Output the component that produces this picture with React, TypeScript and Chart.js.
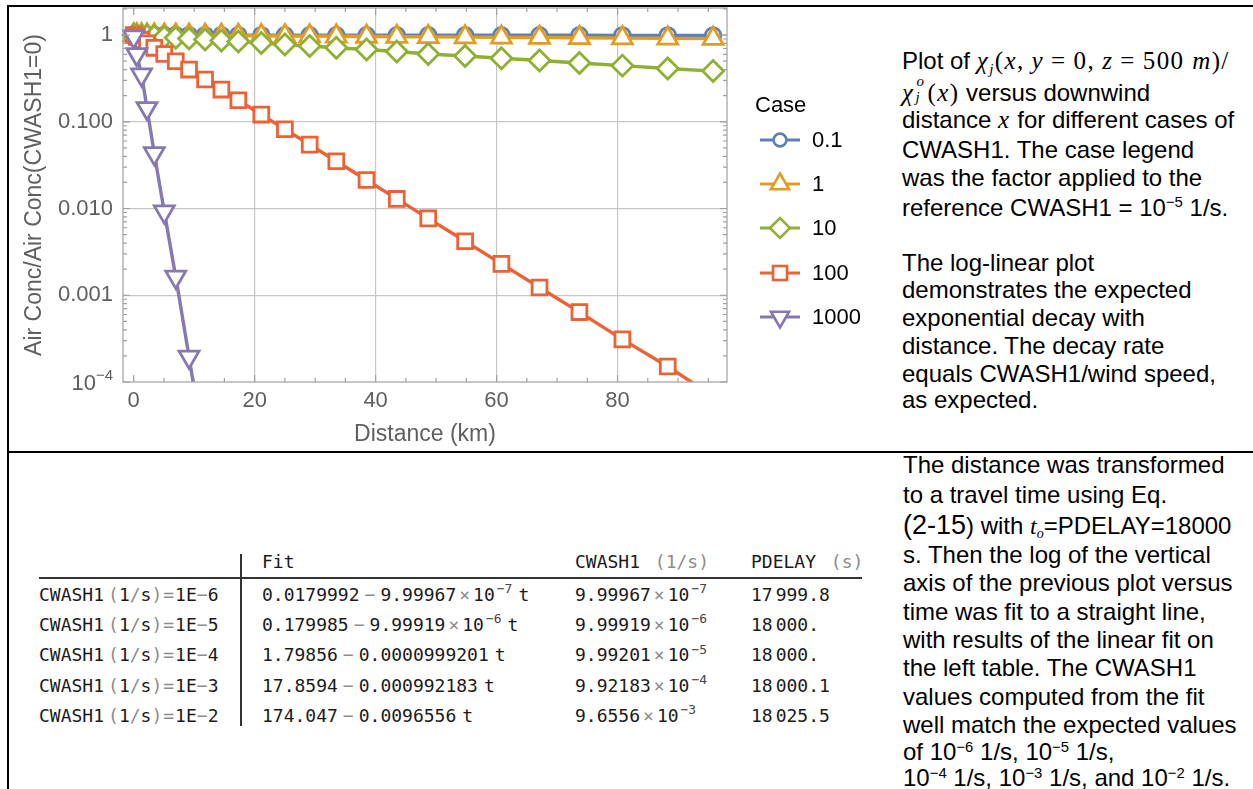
import React, { useEffect, useRef } from 'react';
import { Chart, registerables } from 'chart.js';
Chart.register(...registerables);

// ---------- data ----------
const distanceKm = [0, 0.5, 1.3, 2.2, 3.4, 5.05, 6.95, 9.15, 11.8, 14.5, 17.3, 21.1, 25.0, 29.1, 33.5, 38.5, 43.5, 48.7, 54.8, 60.8, 67.1, 73.7, 80.8, 88.3, 95.8];
const case01 = [1, 1, 1, 1, 1, 0.9995, 0.9993, 0.9991, 0.9988, 0.9986, 0.9983, 0.9979, 0.9975, 0.9971, 0.9967, 0.9962, 0.9957, 0.9952, 0.9945, 0.994, 0.9933, 0.9927, 0.992, 0.9912, 0.9905];
const case1 = [1, 0.9995, 0.9987, 0.9978, 0.9966, 0.995, 0.9931, 0.9909, 0.9883, 0.9856, 0.9829, 0.9791, 0.9753, 0.9713, 0.967, 0.9622, 0.9574, 0.9525, 0.9467, 0.941, 0.9351, 0.929, 0.9224, 0.9155, 0.9087];
const case10 = [1, 0.995, 0.987, 0.978, 0.967, 0.951, 0.933, 0.913, 0.889, 0.865, 0.841, 0.81, 0.779, 0.748, 0.715, 0.68, 0.647, 0.605, 0.574, 0.541, 0.508, 0.476, 0.444, 0.412, 0.384];
const case100 = [1, 0.951, 0.878, 0.803, 0.712, 0.604, 0.499, 0.4, 0.307, 0.235, 0.177, 0.121, 0.0821, 0.0545, 0.0351, 0.0213, 0.0129, 0.0077, 0.0042, 0.0023, 0.00123, 0.00064, 0.00031, 0.000151, 0.0000686];
const case1000 = [0.96, 0.6, 0.35, 0.143, 0.0432, 0.0092, 0.00163, 0.000195, 0.000014];

const caseLabels = ['0.1', '1', '10', '100', '1000'];
const seriesColors = ['#5E81B5', '#E19C24', '#8FB032', '#EB6235', '#8778B3'];
const seriesValues = [case01, case1, case10, case100, case1000];
const markerStyles = ['circle', 'triangle', 'rectRot', 'rect', 'triangle'];
const markerRadius = [7.8, 11.5, 10.5, 10.5, 11.5];
const markerRotation = [0, 0, 0, 0, 180];

const xTickValues = [0, 20, 40, 60, 80];
const yTickValues = [0.0001, 0.001, 0.01, 0.1, 1];
const yTickLabels = ['', '0.001', '0.010', '0.100', '1'];
const yBottomLabelBase = '10';
const yBottomLabelExp = '−4';

const tableRowLabels = ['1E−6', '1E−5', '1E−4', '1E−3', '1E−2'];
const fitIntercepts = ['0.0179992', '0.179985', '1.79856', '17.8594', '174.047'];
const fitSlopeMantissa = ['9.99967', '9.99919', '0.0000999201', '0.000992183', '0.0096556'];
const fitSlopeExponent = ['−7', '−6', '', '', ''];
const cwashMantissa = ['9.99967', '9.99919', '9.99201', '9.92183', '9.6556'];
const cwashExponent = ['−7', '−6', '−5', '−4', '−3'];
const pdelayHead = ['17', '18', '18', '18', '18'];
const pdelayTail = ['999.8', '000.', '000.', '000.1', '025.5'];

// ---------- styles ----------
const SANS = "'Liberation Sans', Arial, sans-serif";
const SERIF = "'Liberation Serif', 'DejaVu Serif', serif";
const MONO = "'DejaVu Sans Mono', 'Liberation Mono', monospace";
const AXIS_GRAY = '#5f5f5f';

const frameTicks = {
  id: 'frameTicks',
  afterDraw(chart: any) {
    const { ctx, chartArea: a, scales } = chart;
    const x = scales.x;
    const y = scales.y;
    ctx.save();
    ctx.strokeStyle = '#a0a0a0';
    ctx.lineWidth = 1.2;
    ctx.strokeRect(a.left, a.top, a.right - a.left, a.bottom - a.top);
    ctx.beginPath();
    for (let v = 0; v <= x.max; v += 5) {
      const px = x.getPixelForValue(v);
      const len = v % 20 === 0 ? 7 : 4;
      ctx.moveTo(px, a.bottom);
      ctx.lineTo(px, a.bottom - len);
      ctx.moveTo(px, a.top);
      ctx.lineTo(px, a.top + len);
    }
    for (let k = -4; k <= 0; k++) {
      for (let m = 1; m <= 9; m++) {
        const v = m * Math.pow(10, k);
        if (v > y.max || v < y.min) continue;
        const py = y.getPixelForValue(v);
        const len = m === 1 ? 7 : 4;
        ctx.moveTo(a.left, py);
        ctx.lineTo(a.left + len, py);
        ctx.moveTo(a.right, py);
        ctx.lineTo(a.right - len, py);
      }
    }
    ctx.stroke();
    // bottom decade label drawn as 10 with a raised exponent
    const py = y.getPixelForValue(yTickValues[0]);
    const right = a.left - 10;
    ctx.fillStyle = AXIS_GRAY;
    ctx.textBaseline = 'alphabetic';
    ctx.textAlign = 'left';
    ctx.font = `15px ${SANS}`;
    const wExp = ctx.measureText(yBottomLabelExp).width;
    ctx.fillText(yBottomLabelExp, right - wExp, py - 2);
    ctx.font = `22px ${SANS}`;
    const wBase = ctx.measureText(yBottomLabelBase).width;
    ctx.fillText(yBottomLabelBase, right - wExp - wBase, py + 8);
    ctx.restore();
  },
};

function DecayChart() {
  const ref = useRef<HTMLCanvasElement | null>(null);
  useEffect(() => {
    if (!ref.current) return;
    const datasets = seriesValues.map((vals, i) => ({
      label: caseLabels[i],
      data: vals.map((v, j) => ({ x: distanceKm[j], y: v })),
      borderColor: seriesColors[i],
      backgroundColor: '#ffffff',
      borderWidth: 3.4,
      pointStyle: markerStyles[i],
      pointRadius: markerRadius[i],
      pointRotation: markerRotation[i],
      pointBorderWidth: 2.8,
      pointBorderColor: seriesColors[i],
      pointBackgroundColor: '#ffffff',
      tension: 0,
      order: 5 - i,
      clip: { left: 20, right: 20, top: 20, bottom: 0 },
    }));
    const chart = new Chart(ref.current, {
      type: 'line',
      data: { datasets },
      plugins: [frameTicks],
      options: {
        animation: false,
        responsive: false,
        maintainAspectRatio: false,
        layout: { autoPadding: false, padding: { left: 10, right: 143, top: 8, bottom: 0 } },
        plugins: { legend: { display: false }, tooltip: { enabled: false } },
        scales: {
          x: {
            type: 'linear',
            min: -1.77,
            max: 98.1,
            afterBuildTicks: (s: any) => {
              s.ticks = xTickValues.map((v) => ({ value: v }));
            },
            afterFit: (s: any) => {
              s.height = 70;
              s.paddingLeft = 0;
              s.paddingRight = 0;
            },
            ticks: {
              autoSkip: false,
              maxRotation: 0,
              padding: 6,
              color: AXIS_GRAY,
              font: { family: SANS, size: 22 },
              callback: (v: any) => String(v),
            },
            grid: {
              drawTicks: false,
              lineWidth: 1.2,
              color: (c: any) => (c.tick && c.tick.value === 0 ? 'rgba(0,0,0,0)' : '#c6c6c6'),
            },
            border: { display: false },
            title: {
              display: true,
              text: 'Distance (km)',
              color: AXIS_GRAY,
              font: { family: SANS, size: 23 },
              padding: { top: 0, bottom: 4 },
            },
          },
          y: {
            type: 'logarithmic',
            min: 0.0001,
            max: 2.05,
            afterBuildTicks: (s: any) => {
              s.ticks = yTickValues.map((v) => ({ value: v }));
            },
            afterFit: (s: any) => {
              s.width = 113;
              s.paddingTop = 0;
              s.paddingBottom = 0;
            },
            ticks: {
              autoSkip: false,
              padding: 10,
              color: AXIS_GRAY,
              font: { family: SANS, size: 22 },
              callback: (v: any) => {
                const idx = yTickValues.findIndex((t) => Math.abs(t - v) / t < 1e-6);
                return idx >= 0 ? yTickLabels[idx] : '';
              },
            },
            grid: {
              drawTicks: false,
              lineWidth: 1.2,
              color: (c: any) => (c.tick && c.tick.value <= 0.00011 ? 'rgba(0,0,0,0)' : '#c6c6c6'),
            },
            border: { display: false },
            title: {
              display: true,
              text: 'Air Conc/Air Conc(CWASH1=0)',
              color: AXIS_GRAY,
              font: { family: SANS, size: 23 },
              padding: { top: 11, bottom: 0 },
            },
          },
        },
      } as any,
    });
    return () => chart.destroy();
  }, []);
  return <canvas ref={ref} width={870} height={452} style={{ position: 'absolute', left: 0, top: 0, width: 870, height: 452 }} />;
}

function LegendSymbol({ i }: { i: number }) {
  const c = seriesColors[i];
  const cx = 20;
  const cy = 12;
  let marker: React.ReactNode = null;
  const common = { fill: '#fff', stroke: c, strokeWidth: 2.6 };
  if (i === 0) marker = <circle cx={cx} cy={cy} r={6.4} {...common} />;
  if (i === 1) {
    const r = 10.5;
    marker = <polygon points={`${cx},${cy - r} ${cx + r * 0.866},${cy + r / 2} ${cx - r * 0.866},${cy + r / 2}`} {...common} />;
  }
  if (i === 2) {
    const r = 10;
    marker = <polygon points={`${cx - r},${cy} ${cx},${cy - r} ${cx + r},${cy} ${cx},${cy + r}`} {...common} />;
  }
  if (i === 3) marker = <rect x={cx - 7} y={cy - 7} width={14} height={14} {...common} />;
  if (i === 4) {
    const r = 10.5;
    marker = <polygon points={`${cx},${cy + r} ${cx + r * 0.866},${cy - r / 2} ${cx - r * 0.866},${cy - r / 2}`} {...common} />;
  }
  return (
    <svg width={40} height={24} style={{ position: 'absolute', left: 0, top: 0, overflow: 'visible' }}>
      <line x1={0} y1={cy} x2={40} y2={cy} stroke={c} strokeWidth={3.2} />
      {marker}
    </svg>
  );
}

function Legend() {
  const centers = [140, 184.2, 228.4, 272.6, 316.8];
  return (
    <>
      <div style={{ position: 'absolute', left: 755, top: 105 - 14, height: 28, lineHeight: '28px', fontFamily: SANS, fontSize: 22, color: '#000', whiteSpace: 'nowrap' }}>Case</div>
      {caseLabels.map((lab, i) => (
        <div key={lab} style={{ position: 'absolute', left: 760, top: centers[i] - 12, height: 24, width: 110 }}>
          <LegendSymbol i={i} />
          <div style={{ position: 'absolute', left: 52, top: -2, lineHeight: '28px', fontFamily: SANS, fontSize: 22, color: '#000', whiteSpace: 'nowrap' }}>{lab}</div>
        </div>
      ))}
    </>
  );
}

const Sup = ({ children }: { children: React.ReactNode }) => (
  <span style={{ fontSize: '0.62em', position: 'relative', top: '-0.55em', lineHeight: 0 }}>{children}</span>
);

function TextLine({ left, cy, size, lh, children }: any) {
  return (
    <div style={{ position: 'absolute', left, top: cy - lh / 2, height: lh, lineHeight: `${lh}px`, fontFamily: SANS, fontSize: size, color: '#000', whiteSpace: 'nowrap' }}>
      {children}
    </div>
  );
}

const M = ({ children }: { children: React.ReactNode }) => (
  <span style={{ fontFamily: SERIF, fontSize: 25, letterSpacing: '1.4px' }}>{children}</span>
);
const I = ({ children }: { children: React.ReactNode }) => <span style={{ fontStyle: 'italic' }}>{children}</span>;
const Eq = () => <span style={{ margin: '0 7px' }}>=</span>;
const Cm = () => <span style={{ marginRight: 7 }}>,</span>;

function TopText() {
  const L = 902;
  const S = 24;
  const H = 28;
  return (
    <>
      <TextLine left={L} cy={60.8} size={S} lh={H}>
        Plot of{' '}
        <M>
          <I>χ</I>
          <span style={{ fontSize: 15, position: 'relative', top: 5, fontStyle: 'italic', lineHeight: 0 }}>j</span>(<I>x</I>
          <Cm />
          <I>y</I>
          <Eq />0<Cm />
          <I>z</I>
          <Eq />
          500 <I>m</I>)/
        </M>
      </TextLine>
      <TextLine left={L} cy={90} size={S} lh={H}>
        <M>
          <I>χ</I>
          <span style={{ position: 'relative', display: 'inline-block', width: 11, height: 25, verticalAlign: 'baseline' }}>
            <span style={{ position: 'absolute', left: 2, top: -2, fontSize: 15, lineHeight: '15px', fontStyle: 'italic' }}>o</span>
            <span style={{ position: 'absolute', left: 1, top: 14, fontSize: 15, lineHeight: '15px', fontStyle: 'italic' }}>j</span>
          </span>
          <span style={{ marginLeft: 2 }}>(</span>
          <I>x</I>)
        </M>{' '}
        versus downwind
      </TextLine>
      <TextLine left={L} cy={120} size={S} lh={H}>
        distance <M><I>x</I></M> for different cases of
      </TextLine>
      <TextLine left={L} cy={150} size={S} lh={H}>CWASH1. The case legend</TextLine>
      <TextLine left={L} cy={178.3} size={S} lh={H}>was the factor applied to the</TextLine>
      <TextLine left={L} cy={207.5} size={S} lh={H}>
        reference CWASH1 = 10<Sup>−5</Sup> 1/s.
      </TextLine>
      <TextLine left={L} cy={263} size={S} lh={H}>The log-linear plot</TextLine>
      <TextLine left={L} cy={290} size={S} lh={H}>demonstrates the expected</TextLine>
      <TextLine left={L} cy={318} size={S} lh={H}>exponential decay with</TextLine>
      <TextLine left={L} cy={346} size={S} lh={H}>distance. The decay rate</TextLine>
      <TextLine left={L} cy={374} size={S} lh={H}>equals CWASH1/wind speed,</TextLine>
      <TextLine left={L} cy={400} size={S} lh={H}>as expected.</TextLine>
    </>
  );
}

function BottomText() {
  const L = 903;
  const S = 24;
  const H = 28;
  const ys = [465, 495, 525, 555, 583.3, 611.7, 640, 668.3, 696.7, 725, 751.7, 778.3];
  return (
    <>
      <TextLine left={L} cy={ys[0]} size={S} lh={H}>The distance was transformed</TextLine>
      <TextLine left={L} cy={ys[1]} size={S} lh={H}>to a travel time using Eq.</TextLine>
      <TextLine left={L} cy={ys[2]} size={S} lh={H}>
        <span style={{ fontSize: 27 }}>(2-15</span>) with{' '}
        <span style={{ fontFamily: SERIF, fontStyle: 'italic' }}>
          t<span style={{ fontSize: 14, position: 'relative', top: 4, lineHeight: 0 }}>o</span>
        </span>
        =PDELAY=18000
      </TextLine>
      <TextLine left={L} cy={ys[3]} size={S} lh={H}>s. Then the log of the vertical</TextLine>
      <TextLine left={L} cy={ys[4]} size={S} lh={H}>axis of the previous plot versus</TextLine>
      <TextLine left={L} cy={ys[5]} size={S} lh={H}>time was fit to a straight line,</TextLine>
      <TextLine left={L} cy={ys[6]} size={S} lh={H}>with results of the linear fit on</TextLine>
      <TextLine left={L} cy={ys[7]} size={S} lh={H}>the left table. The CWASH1</TextLine>
      <TextLine left={L} cy={ys[8]} size={S} lh={H}>values computed from the fit</TextLine>
      <TextLine left={L} cy={ys[9]} size={S} lh={H}>well match the expected values</TextLine>
      <TextLine left={L} cy={ys[10]} size={S} lh={H}>
        of 10<Sup>−6</Sup> 1/s, 10<Sup>−5</Sup> 1/s,
      </TextLine>
      <TextLine left={L} cy={ys[11]} size={S} lh={H}>
        10<Sup>−4</Sup> 1/s, 10<Sup>−3</Sup> 1/s, and 10<Sup>−2</Sup> 1/s.
      </TextLine>
    </>
  );
}

const G = ({ children, m }: { children: React.ReactNode; m?: string }) => (
  <span style={{ color: '#8c8c8c', margin: m || '0' }}>{children}</span>
);
const TSup = ({ children }: { children: React.ReactNode }) => (
  <span style={{ fontSize: '0.72em', position: 'relative', top: '-0.6em', lineHeight: 0, color: '#444', marginLeft: 2 }}>{children}</span>
);

function Cell({ left, cy, children }: any) {
  return (
    <div style={{ position: 'absolute', left, top: cy - 12, height: 24, lineHeight: '24px', fontFamily: MONO, fontSize: 18, color: '#1a1a1a', whiteSpace: 'nowrap' }}>
      {children}
    </div>
  );
}

function FitTable() {
  const rows = [595, 625, 655.3, 685.7, 716];
  return (
    <>
      <Cell left={262} cy={561.7}>Fit</Cell>
      <Cell left={575} cy={561.7}>
        CWASH1 <G m="0 0 0 4px">(1/s)</G>
      </Cell>
      <Cell left={751} cy={561.7}>
        PDELAY <G m="0 0 0 4px">(s)</G>
      </Cell>
      <div style={{ position: 'absolute', left: 39, top: 577, width: 823, height: 1.6, background: '#333' }} />
      <div style={{ position: 'absolute', left: 240, top: 554, width: 1.6, height: 172, background: '#333' }} />
      {rows.map((cy, i) => (
        <React.Fragment key={i}>
          <Cell left={39} cy={cy}>
            CWASH1<G m="0 0 0 4px">(</G>1<G>/</G>s<G>)</G>
            <G m="0 1px 0 1px">=</G>1E<G>−</G>
            {tableRowLabels[i].slice(3)}
          </Cell>
          <Cell left={262} cy={cy}>
            {fitIntercepts[i]}
            <G m="0 5px">−</G>
            {fitSlopeMantissa[i]}
            {fitSlopeExponent[i] ? (
              <>
                <G m="0 3px">×</G>10<TSup>{fitSlopeExponent[i]}</TSup>
              </>
            ) : null}
            <span style={{ marginLeft: 6 }}>t</span>
          </Cell>
          <Cell left={575} cy={cy}>
            {cwashMantissa[i]}
            <G m="0 3px">×</G>10<TSup>{cwashExponent[i]}</TSup>
          </Cell>
          <Cell left={751} cy={cy}>
            {pdelayHead[i]}
            <span style={{ marginLeft: 3 }}>{pdelayTail[i]}</span>
          </Cell>
        </React.Fragment>
      ))}
    </>
  );
}

export default function App() {
  return (
    <div style={{ position: 'absolute', left: 0, top: 0, width: 1253, height: 789, background: '#fff', overflow: 'hidden' }}>
      <DecayChart />
      <Legend />
      <TopText />
      <FitTable />
      <BottomText />
      <div style={{ position: 'absolute', left: 7, top: 4.5, width: 1246, height: 2, background: '#000' }} />
      <div style={{ position: 'absolute', left: 6.5, top: 4.5, width: 2, height: 785, background: '#000' }} />
      <div style={{ position: 'absolute', left: 7, top: 451, width: 1246, height: 2, background: '#000' }} />
    </div>
  );
}
